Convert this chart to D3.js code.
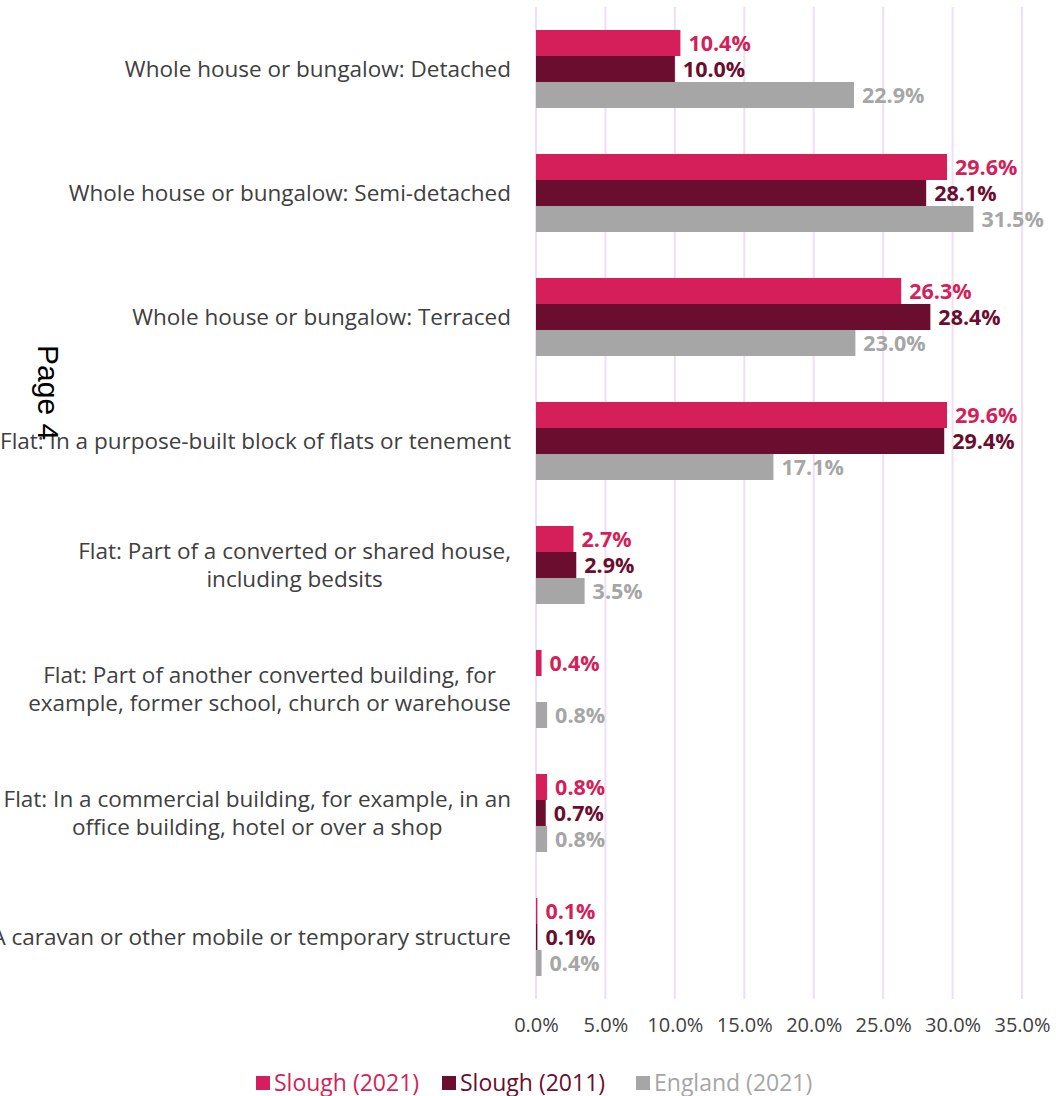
<!DOCTYPE html>
<html><head><meta charset="utf-8">
<script src="https://cdn.jsdelivr.net/npm/d3@7"></script>
<style>html,body{margin:0;padding:0;background:#fff;overflow:hidden}</style>
</head><body>
<svg id="chart" width="1056" height="1096"></svg>
<script>
const categories = [
  ["Whole house or bungalow: Detached"],
  ["Whole house or bungalow: Semi-detached"],
  ["Whole house or bungalow: Terraced"],
  ["Flat: In a purpose-built block of flats or tenement"],
  ["Flat: Part of a converted or shared house,", "including bedsits"],
  ["Flat: Part of another converted building, for", "example, former school, church or warehouse"],
  ["Flat: In a commercial building, for example, in an", "office building, hotel or over a shop"],
  ["A caravan or other mobile or temporary structure"]
];
const seriesNames = ["Slough (2021)", "Slough (2011)", "England (2021)"];
const slough2021 = [10.4, 29.6, 26.3, 29.6, 2.7, 0.4, 0.8, 0.1];
const slough2011 = [10.0, 28.1, 28.4, 29.4, 2.9, null, 0.7, 0.1];
const england2021 = [22.9, 31.5, 23.0, 17.1, 3.5, 0.8, 0.8, 0.4];
const xTicks = [0, 5, 10, 15, 20, 25, 30, 35];
const colors = ["#D41F5A", "#6A0D2E", "#A6A6A6"];

const seriesValues = [slough2021, slough2011, england2021];
const svg = d3.select("#chart");
const font = "'Open Sans', 'Noto Sans', sans-serif";

const x = d3.scaleLinear().domain([0, 35]).range([536, 1022]);
const y = d3.scaleBand().domain(d3.range(categories.length)).range([7, 999])
  .paddingInner(0.371).paddingOuter(0.1855);
const ySub = d3.scaleBand().domain(d3.range(3)).range([0, y.bandwidth()]);

// gridlines
svg.append("g").selectAll("line").data(xTicks).join("line")
  .attr("x1", d => x(d)).attr("x2", d => x(d))
  .attr("y1", 7).attr("y2", 999)
  .attr("stroke", "#EEDFF2").attr("stroke-width", 2);

// bars
const groups = svg.append("g").selectAll("g").data(categories).join("g")
  .attr("transform", (d, i) => `translate(0,${y(i)})`);

seriesValues.forEach((vals, s) => {
  groups.each(function(d, i) {
    const v = vals[i];
    if (v == null) return;
    const g = d3.select(this);
    g.append("rect")
      .attr("x", x(0)).attr("y", ySub(s))
      .attr("width", Math.max(1, x(v) - x(0)))
      .attr("height", ySub.bandwidth())
      .attr("fill", colors[s]);
    g.append("text")
      .attr("x", x(v) + 8).attr("y", ySub(s) + ySub.bandwidth() / 2)
      .attr("dy", "0.35em")
      .attr("font-family", font).attr("font-weight", "bold").attr("font-size", 21.5)
      .attr("fill", colors[s])
      .text(v.toFixed(1) + "%");
  });
});

// category labels
const labelG = svg.append("g");
categories.forEach((lines, i) => {
  const cy = y(i) + y.bandwidth() / 2;
  const t = labelG.append("text")
    .attr("font-family", font).attr("font-size", 22.5).attr("fill", "#404040");
  lines.forEach((ln, k) => {
    t.append("tspan").attr("y", cy + (k - (lines.length - 1) / 2) * 28).attr("dy", "0.35em").text(ln);
  });
  const tspans = t.selectAll("tspan").nodes();
  const widths = tspans.map(n => n.getComputedTextLength());
  const w = d3.max(widths);
  const center = 511 - w / 2;
  t.selectAll("tspan").attr("x", center).attr("text-anchor", "middle");
});

// x axis labels
const xAxis = d3.axisBottom(x).tickValues(xTicks).tickFormat(d => d.toFixed(1) + "%").tickSize(0).tickPadding(0);
const ax = svg.append("g").attr("transform", "translate(0,1018)").call(xAxis);
ax.select(".domain").remove();
ax.selectAll("text").attr("font-family", font).attr("font-size", 20).attr("fill", "#404040");

// legend
const legend = svg.append("g");
const legX = [256, 442, 636];
seriesNames.forEach((n, s) => {
  legend.append("rect").attr("x", legX[s]).attr("y", 1076).attr("width", 14).attr("height", 14).attr("fill", colors[s]);
  legend.append("text").attr("x", legX[s] + 18).attr("y", 1083).attr("dy", "0.35em")
    .attr("font-family", font).attr("font-size", 23).attr("fill", colors[s]).text(n);
});

// page marker
svg.append("text").attr("transform", "translate(38,345) rotate(90)")
  .attr("font-family", "'Liberation Sans', Arial, sans-serif").attr("font-size", 30).attr("fill", "#000")
  .text("Page 4");
</script>
</body></html>
